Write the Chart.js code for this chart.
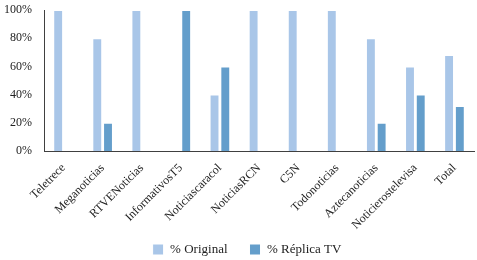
<!DOCTYPE html>
<html>
<head>
<meta charset="utf-8">
<script src="https://cdn.jsdelivr.net/npm/chart.js@4"></script>
<style>
  html, body { margin: 0; padding: 0; background: #fff; }
  #wrap { width: 477px; height: 260px; }
</style>
</head>
<body>
<div id="wrap"><canvas id="chart"></canvas></div>
<script>
const categories = ["Teletrece", "Meganoticias", "RTVENoticias", "InformativosT5", "Noticiascaracol",
  "NoticiasRCN", "C5N", "Todonoticias", "Aztecanoticias", "Noticierostelevisa", "Total"];
const original = [100, 80, 100, 0, 40, 100, 100, 100, 80, 60, 68];
const replica = [0, 20, 0, 100, 60, 0, 0, 0, 20, 40, 32];
const yTicks = [0, 20, 40, 60, 80, 100];

const serif = "'Liberation Serif', 'Times New Roman', serif";

// tick labels hang outside their axis boxes here, so don't clip them
const noLabelClip = {
  id: "noLabelClip",
  beforeDraw(chart) {
    Object.values(chart.scales).forEach((s) => { s._computeLabelArea = () => undefined; });
  },
};

new Chart(document.getElementById("chart"), {
  type: "bar",
  data: {
    labels: categories,
    datasets: [
      { label: "% Original", data: original, backgroundColor: "#a9c6e8", borderColor: "#ffffff", borderWidth: 1 },
      { label: "% Réplica TV", data: replica, backgroundColor: "#649ecb", borderColor: "#ffffff", borderWidth: 1 },
    ],
  },
  plugins: [noLabelClip],
  options: {
    responsive: true,
    maintainAspectRatio: false,
    animation: false,
    layout: { padding: { top: 10, right: 3, left: 20, bottom: -6 } },
    datasets: { bar: { categoryPercentage: 0.55, barPercentage: 0.92 } },
    plugins: {
      legend: {
        position: "bottom",
        labels: { boxWidth: 11, boxHeight: 11, padding: 22, color: "#222", font: { family: serif, size: 13 } },
      },
      tooltip: { enabled: false },
    },
    scales: {
      x: {
        afterFit: (axis) => { axis.height = 70; },
        grid: { display: false, drawTicks: false },
        border: { display: true, color: "#404040", width: 1 },
        ticks: { maxRotation: 45, minRotation: 45, autoSkip: false, color: "#222", font: { family: serif, size: 12 }, padding: 10 },
      },
      y: {
        min: 0,
        max: 100,
        afterBuildTicks: (axis) => { axis.ticks = yTicks.map((v) => ({ value: v })); },
        afterFit: (axis) => {
          axis.width = 24;
          axis.paddingTop = 0;
          axis.paddingBottom = 0;
        },
        grid: { display: false, drawTicks: false },
        border: { display: true, color: "#404040", width: 1 },
        ticks: { color: "#222", font: { family: serif, size: 12 }, padding: 12, callback: (v) => v + "%" },
      },
    },
  },
});
</script>
</body>
</html>
